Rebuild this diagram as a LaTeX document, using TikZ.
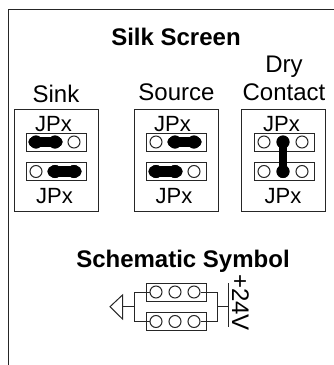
\documentclass[tikz,border=0pt]{standalone}
\usepackage{fontspec}
\setmainfont{Liberation Sans}
\tikzset{
  thinline/.style={draw=black!85,line width=1pt},
  label/.style={font=\fontsize{24}{26}\selectfont,inner sep=0pt,anchor=base},
  heading/.style={font=\fontsize{24}{26}\selectfont\bfseries,inner sep=0pt,anchor=base},
  jplabel/.style={font=\fontsize{22}{24}\selectfont,inner sep=0pt,anchor=base},
  pcb/.style={thinline,minimum width=84pt,minimum height=102pt,inner sep=0pt},
  header/.style={thinline,minimum width=60pt,minimum height=18pt,inner sep=0pt},
  hole/.style={circle,thinline,fill=white,minimum size=12pt,inner sep=0pt},
  pin/.style={circle,fill=black,minimum size=13pt,inner sep=0pt},
  wideshunt/.style={draw=black,line width=10.5pt,line cap=round,shorten <=-2.5pt,shorten >=-2.5pt},
  slimshunt/.style={draw=black,line width=8pt}
}
% header with three holes: name, x, y
\newcommand{\jumper}[3]{
  \node[header] (#1) at (#2,#3) {};
  \node[hole] (#1a) at (#2-20,#3) {};
  \node[hole] (#1b) at (#2-1,#3) {};
  \node[hole] (#1c) at (#2+18,#3) {};
}
% shunt between two holes
\newcommand{\shuntbar}[3][wideshunt]{
  \draw[#1] (#2.center) -- (#3.center);
  \node[pin] (#2pin) at (#2) {};
  \node[pin] (#3pin) at (#3) {};
}
\begin{document}
\begin{tikzpicture}[x=1pt,y=-1pt]
  \useasboundingbox (0,0) rectangle (334,365);
  % Frame
  \coordinate (framea) at (8,365);
  \coordinate (frameb) at (8,9);
  \coordinate (framec) at (334,9);
  \draw[thinline] (framea) -- (frameb) -- (framec);
  % Labels
  \node[heading] (silk) at (176,45) {Silk Screen};
  \node[heading] (schem) at (183,267) {Schematic Symbol};
  \node[label] (sink) at (56,102) {Sink};
  \node[label] (source) at (176.5,100.5) {Source};
  \node[label] (dry) at (284,72) {Dry};
  \node[label] (contact) at (284,100.5) {Contact};
  % Sink
  \node[pcb] (sinkbox) at (56.5,160) {};
  \node[jplabel] (sinktop) at (53.5,131) {JPx};
  \node[jplabel] (sinkbot) at (54.5,203) {JPx};
  \jumper{sinku}{56}{142}
  \jumper{sinkd}{56}{171.5}
  \shuntbar{sinkua}{sinkub}
  \shuntbar{sinkdb}{sinkdc}
  % Source
  \node[pcb] (srcbox) at (176,160) {};
  \node[jplabel] (srctop) at (172.5,131) {JPx};
  \node[jplabel] (srcbot) at (174,203) {JPx};
  \jumper{srcu}{176}{142}
  \jumper{srcd}{176}{171.5}
  \shuntbar{srcub}{srcuc}
  \shuntbar{srcda}{srcdb}
  % Dry contact
  \node[pcb] (drybox) at (283.5,160) {};
  \node[jplabel] (drytop) at (281.5,131) {JPx};
  \node[jplabel] (drybot) at (283,203) {JPx};
  \jumper{dryu}{284}{142}
  \jumper{dryd}{284}{171.5}
  \shuntbar[slimshunt]{dryub}{drydb}
  % Schematic symbol
  \jumper{symu}{176}{292}
  \jumper{symd}{176}{321.5}
  \coordinate (lefta) at (134,292);
  \coordinate (leftb) at (134,321.5);
  \coordinate (leftm) at (134,306.7);
  \coordinate (righta) at (217,292);
  \coordinate (rightb) at (217,321.5);
  \coordinate (rightm) at (217,306.7);
  \coordinate (tria) at (110,306.7);
  \coordinate (trib) at (122.5,295);
  \coordinate (tric) at (122.5,319);
  \coordinate (trim) at (122.5,306.7);
  \coordinate (bara) at (228.5,283);
  \coordinate (barb) at (228.5,327);
  \coordinate (barm) at (228.5,306.7);
  \draw[thinline] (symua) -- (lefta) -- (leftb) -- (symda);
  \draw[thinline] (symuc) -- (righta) -- (rightb) -- (symdc);
  \draw[thinline] (tria) -- (trib) -- (tric) -- cycle;
  \draw[thinline] (trim) -- (leftm);
  \draw[thinline] (rightm) -- (barm);
  \draw[thinline] (bara) -- (barb);
  \node[label,rotate=-90] (volt) at (232,302.5) {+24V};
\end{tikzpicture}
\end{document}
